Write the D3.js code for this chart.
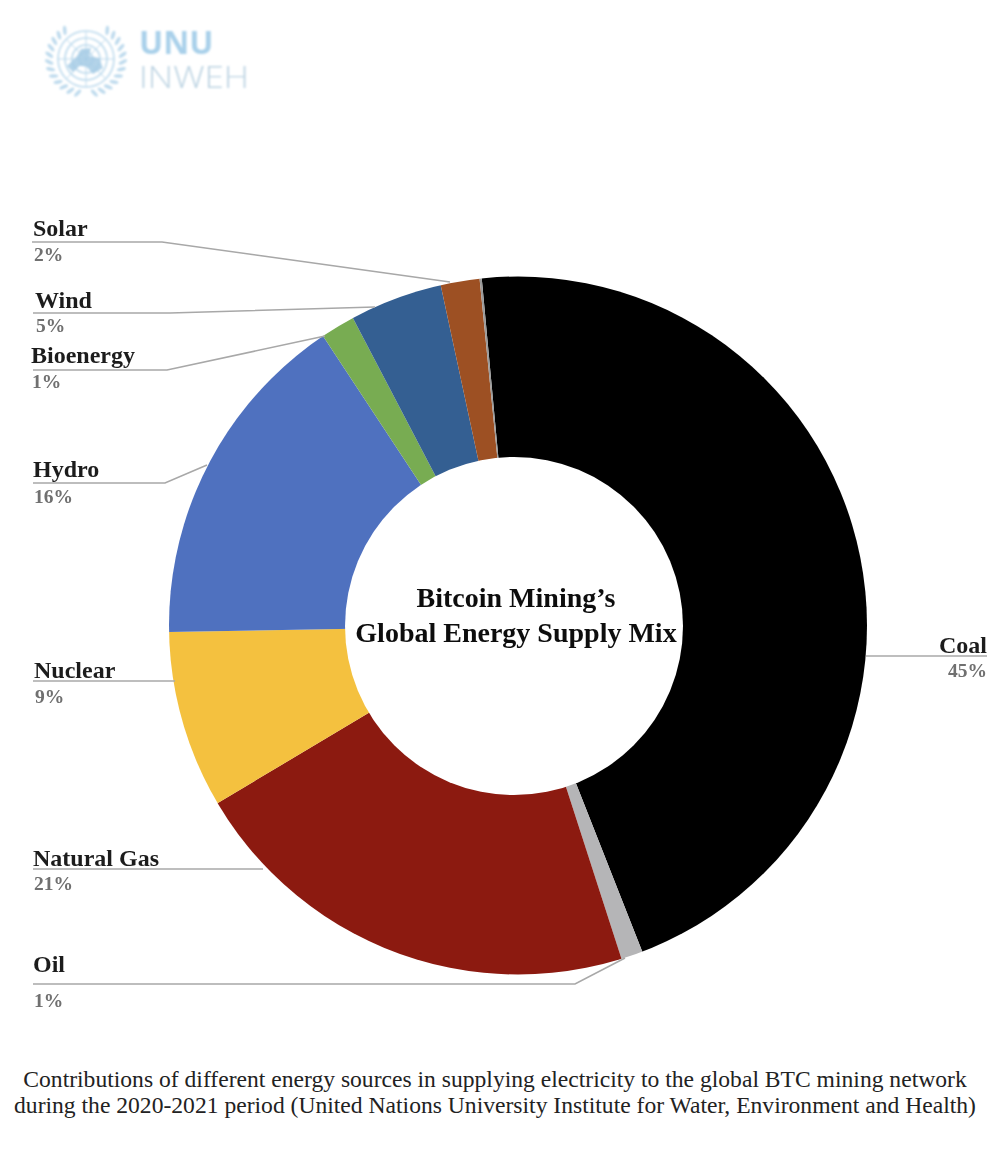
<!DOCTYPE html>
<html><head><meta charset="utf-8">
<script src="https://cdnjs.cloudflare.com/ajax/libs/d3/7.8.5/d3.min.js"></script>
<style>html,body{margin:0;padding:0;background:#fff}svg{display:block}</style>
</head><body><svg id="c" width="1000" height="1149"></svg>
<script>
const categories = ["Coal","Oil","Natural Gas","Nuclear","Hydro","Bioenergy","Wind","Solar","Other"];
const shares = [45.5,1.0,21.4,8.3,16.0,1.6,4.3,1.8,0.1];
const shownPercent = ["45%","1%","21%","9%","16%","1%","5%","2%",""];
const colors = ["#000000","#b5b5b7","#8c1a10","#f4c13f","#4f71bf","#78ac52","#345f92","#9d5023","#9a9a9a"];
const titleLines = ["Bitcoin Mining’s","Global Energy Supply Mix"];
const captionLines = ["Contributions of different energy sources in supplying electricity to the global BTC mining network","during the 2020-2021 period (United Nations University Institute for Water, Environment and Health)"];

const hole={x:514,y:626,r:169}, rim={x:518,y:625.5,r:349};
const svg=d3.select("#c");
const defs=svg.append("defs");
defs.append("filter").attr("id","soft").append("feGaussianBlur").attr("stdDeviation",0.8);
defs.append("filter").attr("id","text").append("feGaussianBlur").attr("stdDeviation",0.35);
defs.append("clipPath").attr("id","rim").append("circle").attr("cx",rim.x).attr("cy",rim.y).attr("r",rim.r);

// logo
const logo=svg.append("g").attr("filter","url(#soft)");
const lc="#bddaed", e=logo.append("g").attr("transform","translate(86,59)");
[7,14,21,28].forEach(q=>e.append("circle").attr("r",q).attr("fill","none").attr("stroke",lc).attr("stroke-width",1.6));
d3.range(0,360,45).forEach(a=>e.append("line").attr("x2",28*Math.cos(a*Math.PI/180)).attr("y2",28*Math.sin(a*Math.PI/180)).attr("stroke",lc).attr("stroke-width",1));
e.append("path").attr("d","M-19,7 L-9,-3 L-5,-10 L5,-11 L3,-3 L13,-1 L17,9 L7,15 L0,7 L-7,7 L-13,13Z").attr("fill","#a6cbe5").attr("opacity",.85);
[-1,1].forEach(s=>{
  d3.range(35,176,12).forEach(a=>{
    const t=a*Math.PI/180,px=s*37*Math.sin(t),py=-35*Math.cos(t);
    e.append("ellipse").attr("rx",1.8).attr("ry",4.6).attr("fill",lc)
     .attr("transform",`translate(${px},${py}) rotate(${s*(a-30)})`);
  });
});
logo.append("text").attr("x",139).attr("y",54).attr("font-family","'Open Sans',sans-serif").attr("font-weight",700).attr("font-size",32).attr("fill","#a9d0ea").text("UNU");
logo.append("text").attr("x",139).attr("y",88).attr("font-family","'Open Sans',sans-serif").attr("font-weight",300).attr("font-size",32).attr("textLength",110).attr("lengthAdjust","spacingAndGlyphs").attr("fill","#bcd3e2").text("INWEH");

// ring: wedges radiate from the hole centre, and the rim circle trims them
const pie=d3.pie().sort(null).value(d=>d).startAngle(-5.3*Math.PI/180).endAngle((360-5.3)*Math.PI/180);
const arcs=pie(shares);
const arc=d3.arc().innerRadius(0).outerRadius(rim.r+20);
svg.append("g").attr("clip-path","url(#rim)").append("g").attr("transform",`translate(${hole.x},${hole.y})`)
  .selectAll("path").data(arcs).join("path").attr("d",arc).attr("fill",(d,i)=>colors[i]);
svg.append("circle").attr("cx",hole.x).attr("cy",hole.y).attr("r",hole.r).attr("fill","#fff");

// label placement
const layout={
 "Coal":{x:987,anchor:"end",nameY:653,pctY:677,line:[[866,656],[987,656]]},
 "Oil":{x:33,nameY:972,pctY:1007,line:[[33,984],[575,984],[625,958]]},
 "Natural Gas":{x:33,nameY:866,pctY:890,line:[[33,869],[263,869]]},
 "Nuclear":{x:34,nameY:678,pctY:703,line:[[33,681],[175,681]]},
 "Hydro":{x:33,nameY:477,pctY:503,line:[[33,483],[165,483],[207,465]]},
 "Bioenergy":{x:31,nameY:363,pctY:388,line:[[33,370],[167,370],[325,336]]},
 "Wind":{x:35,nameY:308,pctY:332,line:[[33,313],[170,313],[375,307]]},
 "Solar":{x:33,nameY:236,pctY:261,line:[[32,242],[162,242],[450,282]]}
};
const labels=categories.map((c,i)=>({c,p:shownPercent[i],...layout[c]})).filter(d=>d.line);
const lineGen=d3.line();
svg.append("g").selectAll("path").data(labels).join("path").attr("d",d=>lineGen(d.line))
  .attr("fill","none").attr("stroke","#a8a8a8").attr("stroke-width",1.6);
const tg=svg.append("g").attr("filter","url(#text)").attr("font-family","'Liberation Serif',serif");
tg.selectAll("text.n").data(labels).join("text").attr("class","n").attr("x",d=>d.x).attr("y",d=>d.nameY)
  .attr("text-anchor",d=>d.anchor||"start").attr("font-weight",700).attr("font-size",24).attr("fill","#1d1d1d").text(d=>d.c);
tg.selectAll("text.p").data(labels).join("text").attr("class","p").attr("x",d=>d.x+(d.anchor?0:1)).attr("y",d=>d.pctY)
  .attr("text-anchor",d=>d.anchor||"start").attr("font-weight",700).attr("font-size",19.5).attr("fill","#6f6f6f").text(d=>d.p);

tg.selectAll("text.t").data(titleLines).join("text").attr("class","t").attr("x",516).attr("y",(d,i)=>607+i*34.5)
  .attr("text-anchor","middle").attr("font-weight",700).attr("font-size",28).attr("fill","#111").text(d=>d);

svg.append("g").selectAll("text").data(captionLines).join("text").attr("x",495).attr("y",(d,i)=>1087+i*26)
  .attr("text-anchor","middle").attr("font-family","'Liberation Serif',serif").attr("font-size",23.6).attr("fill","#222").text(d=>d);
</script></body></html>
